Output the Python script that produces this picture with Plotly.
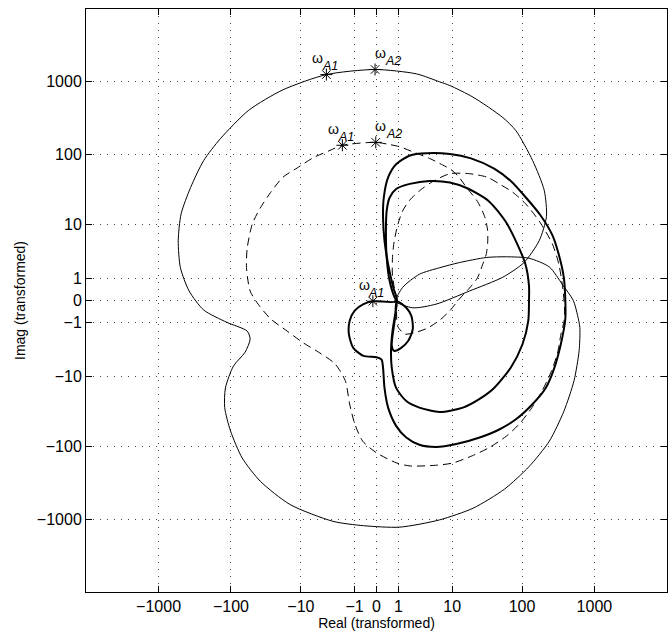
import numpy as np
import plotly.graph_objects as go

# ---------------- data ----------------
# axis ticks (real values) and their labels
tick_values = [-1000, -100, -10, -1, 0, 1, 10, 100, 1000]
tick_labels = ["−1000", "−100", "−10", "−1", "0", "1", "10", "100", "1000"]


def tr(v):
    v = np.asarray(v, dtype=float)
    return np.sign(v) * np.log10(1 + np.abs(v))


# curves, already in transformed coordinates
thin_x = [0.27, 0.50, 0.82, 1.28, 1.74, 2.03, 2.24, 2.34, 2.31, 2.15, 1.92, 1.74, 1.33, 1.01,
          0.87, 0.55, -0.02, -0.69, -1.29, -1.76, -2.15, -2.38, -2.56, -2.69, -2.73, -2.70,
          -2.58, -2.38, -2.06, -1.78, -1.74, -1.81, -1.97, -2.08, -2.09, -2.01, -1.85, -1.60,
          -1.19, -0.60, -0.18, 0.32, 0.87, 1.33, 1.76, 2.10, 2.38, 2.58, 2.72, 2.79, 2.80,
          2.77, 2.71, 2.56, 2.38, 2.10, 1.79, 1.51, 1.14, 0.87, 0.59, 0.36, 0.27]
thin_y = [-0.01, -0.10, -0.05, 0.13, 0.32, 0.52, 0.82, 1.15, 1.51, 1.92, 2.33, 2.51, 2.79, 2.95,
          3.00, 3.11, 3.17, 3.10, 2.89, 2.61, 2.22, 1.92, 1.55, 1.19, 0.82, 0.45,
          0.13, -0.13, -0.30, -0.42, -0.53, -0.71, -0.90, -1.20, -1.47, -1.79, -2.16, -2.48,
          -2.80, -3.03, -3.09, -3.11, -3.01, -2.85, -2.59, -2.28, -1.93, -1.52, -1.10, -0.69, -0.37,
          -0.21, 0.00, 0.22, 0.46, 0.58, 0.60, 0.59, 0.52, 0.45, 0.36, 0.18, -0.01]

dash_x = [0.28, 0.22, 0.22, 0.24, 0.29, 0.36, 0.46, 0.61, 0.77, 1.01, 1.28, 1.53, 1.69, 1.87,
          2.05, 2.24, 2.42, 2.51, 2.57, 2.59, 2.54, 2.49, 2.40, 2.28, 2.14, 1.97, 1.79, 1.55,
          1.32, 1.05, 0.83, 0.46, 0.28, 0.00, -0.19, -0.30, -0.37, -0.43, -0.57, -0.78, -1.01,
          -1.23, -1.46, -1.63, -1.74, -1.79, -1.78, -1.71, -1.60, -1.46, -1.29, -1.09, -0.87,
          -0.64, -0.47, -0.01, 0.18, 0.32, 0.50, 0.73, 0.91, 1.02, 1.13, 1.24, 1.39, 1.49,
          1.53, 1.53, 1.51, 1.46, 1.39, 1.28, 1.14, 1.01, 0.87, 0.70, 0.53, 0.39, 0.29, 0.28]
dash_y = [-0.01, 0.34, 0.59, 0.79, 1.03, 1.23, 1.38, 1.52, 1.63, 1.74, 1.74, 1.69, 1.60, 1.49,
          1.33, 1.09, 0.78, 0.50, 0.13, -0.24, -0.46, -0.73, -0.99, -1.24, -1.47, -1.69, -1.86, -2.02,
          -2.13, -2.23, -2.26, -2.27, -2.23, -2.09, -1.93, -1.69, -1.42, -1.10, -0.87, -0.72, -0.58,
          -0.42, -0.25, -0.05, 0.13, 0.45, 0.72, 1.05, 1.27, 1.48, 1.69, 1.82, 1.96,
          2.06, 2.13, 2.17, 2.14, 2.11, 2.04, 1.95, 1.86, 1.80, 1.70, 1.55, 1.36, 1.15,
          0.96, 0.78, 0.63, 0.49, 0.31, 0.17, 0.02, -0.14, -0.27, -0.38, -0.44, -0.46, -0.35, -0.07]

thickA_x = [-0.05, 0.28, 0.23, 0.16, 0.11, 0.09, 0.10, 0.16, 0.27, 0.46, 0.69, 1.01, 1.30, 1.62,
            1.86, 2.06, 2.25, 2.42, 2.51, 2.58, 2.60, 2.60, 2.54, 2.45, 2.33, 2.15, 1.92, 1.69,
            1.42, 1.10, 0.82, 0.59, 0.41, 0.27, 0.16, 0.11, 0.09, 0.07, 0.00, -0.18, -0.32,
            -0.38, -0.37, -0.30, -0.18, -0.05]
thickA_y = [-0.01, -0.01, 0.18, 0.50, 0.82, 1.14, 1.41, 1.69, 1.87, 1.99, 2.02, 2.01, 1.95, 1.81,
            1.63, 1.41, 1.18, 0.90, 0.63, 0.31, 0.00, -0.25, -0.59, -0.92, -1.20, -1.42, -1.63, -1.77,
            -1.88, -1.97, -2.01, -1.98, -1.88, -1.72, -1.47, -1.20, -0.92, -0.81, -0.78, -0.76, -0.65,
            -0.46, -0.28, -0.14, -0.05, -0.01]

thickB_x = [0.28, 0.25, 0.18, 0.14, 0.13, 0.14, 0.18, 0.27, 0.46, 0.73, 1.01, 1.25, 1.55, 1.78,
            1.94, 2.05, 2.10, 2.10, 2.09, 2.01, 1.85, 1.62, 1.42, 1.19, 0.87, 0.59, 0.41, 0.27,
            0.21, 0.20, 0.22, 0.26, 0.28, 0.41, 0.48, 0.50, 0.44, 0.34, 0.24, 0.21, 0.25, 0.28]
thickB_y = [-0.01, 0.04, 0.27, 0.59, 0.96, 1.23, 1.41, 1.53, 1.60, 1.64, 1.62, 1.54, 1.36, 1.08,
            0.77, 0.50, 0.20, 0.00, -0.28, -0.60, -0.92, -1.20, -1.35, -1.47, -1.53, -1.47, -1.38, -1.20,
            -0.92, -0.69, -0.42, -0.17, -0.01, -0.10, -0.21, -0.39, -0.55, -0.65, -0.69, -0.62, -0.28, -0.03]

# frequency markers
star_x = [-0.69, -0.02, -0.47, -0.01, -0.05]
star_y = [3.10, 3.17, 2.13, 2.17, -0.01]
star_sub = ["A1", "A2", "A1", "A2", "A1"]

# ---------------- figure ----------------
FONT = "Liberation Sans, Arial, Helvetica, sans-serif"
fig = go.Figure()

fig.add_trace(go.Scatter(x=thin_x, y=thin_y, mode="lines",
                         line=dict(color="black", width=1, shape="spline", smoothing=0.7),
                         showlegend=False, hoverinfo="skip"))
fig.add_trace(go.Scatter(x=dash_x, y=dash_y, mode="lines",
                         line=dict(color="black", width=1, dash="8px,5px", shape="spline", smoothing=0.7),
                         showlegend=False, hoverinfo="skip"))
fig.add_trace(go.Scatter(x=thickA_x, y=thickA_y, mode="lines",
                         line=dict(color="black", width=2, shape="spline", smoothing=0.7),
                         showlegend=False, hoverinfo="skip"))
fig.add_trace(go.Scatter(x=thickB_x, y=thickB_y, mode="lines",
                         line=dict(color="black", width=2, shape="spline", smoothing=0.7),
                         showlegend=False, hoverinfo="skip"))
fig.add_trace(go.Scatter(x=star_x, y=star_y, mode="markers",
                         marker=dict(symbol="asterisk-open", size=10, color="black",
                                     line=dict(color="black", width=1)),
                         showlegend=False, hoverinfo="skip"))

for sx, sy, sub in zip(star_x, star_y, star_sub):
    if sub == "A1":
        wx, bx = -8.5, 3.5
    else:
        wx, bx = 5, 18
    fig.add_annotation(x=sx, y=sy, text="ω", showarrow=False, xshift=wx, yshift=16.5,
                       xanchor="center", yanchor="middle",
                       font=dict(family=FONT, size=14, color="black"))
    fig.add_annotation(x=sx, y=sy, text="<i>" + sub + "</i>", showarrow=False, xshift=bx, yshift=8.5,
                       xanchor="center", yanchor="middle",
                       font=dict(family=FONT, size=12.5, color="black"))

axis_common = dict(
    range=[-4, 4],
    tickvals=tr(tick_values).tolist(),
    ticktext=tick_labels,
    ticks="inside", ticklen=6, tickwidth=1, tickcolor="black",
    showline=True, linecolor="black", linewidth=1, mirror="ticks",
    showgrid=True, gridcolor="#444444", gridwidth=1, griddash="1px,6px",
    zeroline=False,
    tickfont=dict(family=FONT, size=16, color="black"),
    fixedrange=True,
)

fig.update_layout(
    width=668, height=633,
    margin=dict(l=86, r=1, t=9, b=41),
    paper_bgcolor="white", plot_bgcolor="white",
    xaxis=dict(**axis_common,
               title=dict(text="Real (transformed)", standoff=1,
                          font=dict(family=FONT, size=14, color="black"))),
    yaxis=dict(**axis_common,
               title=dict(text="Imag (transformed)", standoff=7,
                          font=dict(family=FONT, size=14, color="black"))),
)

fig.write_html("out.html")
